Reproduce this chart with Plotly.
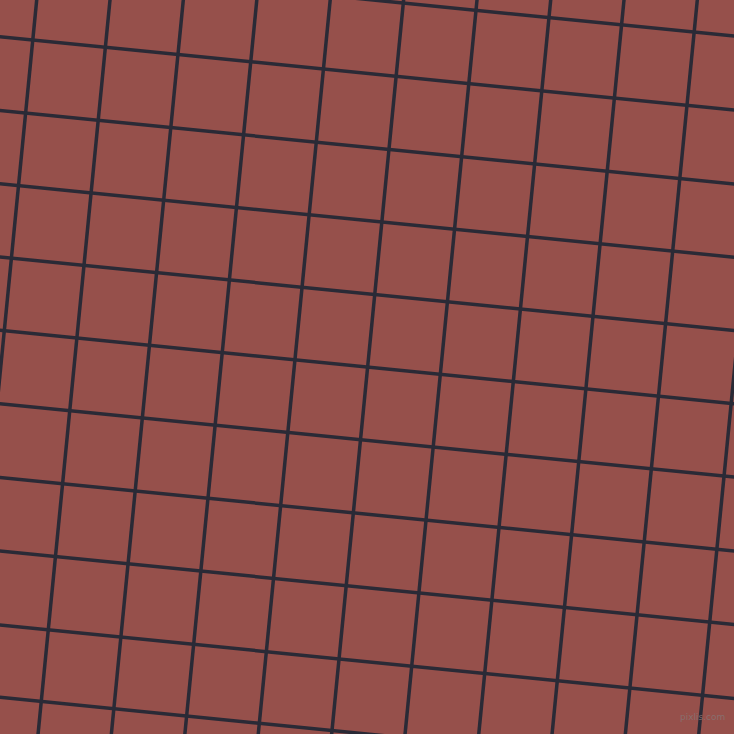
import plotly.graph_objects as go

# grid (pixel space, y down)
tilt_v = 0.098  # dx/dy of the near-vertical lines
tilt_h = 0.100  # dy/dx of the near-horizontal lines
col_lines = [-36.7, 36.7, 110.0, 183.3, 256.8, 330.2, 403.6, 477.0, 550.7, 624.0, 697.3, 770.7]  # x where each line meets the top
row_lines = [-37.3, 36.7, 110.5, 183.8, 257.0, 330.3, 403.7, 477.5, 551.0, 625.0, 697.3]  # y where each line meets the left edge

W = H = 734
bg_color = "#96504b"
line_color = "#2a2a36"

# ---- build the two line families ----
vx, vy = [], []
for c in col_lines:
    vx += [c + tilt_v * 60, c - tilt_v * (H + 60), None]
    vy += [-60, H + 60, None]

hx, hy = [], []
for d in row_lines:
    hx += [-60, W + 60, None]
    hy += [d - tilt_h * 60, d + tilt_h * (W + 60), None]

fig = go.Figure()
fig.add_trace(go.Scatter(x=vx, y=vy, mode="lines",
                         line=dict(color=line_color, width=3.5),
                         hoverinfo="skip", showlegend=False))
fig.add_trace(go.Scatter(x=hx, y=hy, mode="lines",
                         line=dict(color=line_color, width=3.5),
                         hoverinfo="skip", showlegend=False))

fig.add_annotation(x=727, y=717, xref="x", yref="y", text="pixlis.com",
                   showarrow=False, xanchor="right", yanchor="middle",
                   font=dict(family="DejaVu Sans", size=9, color="rgba(135,112,112,0.95)"))

fig.update_layout(
    width=W, height=H,
    margin=dict(l=0, r=0, t=0, b=0),
    paper_bgcolor=bg_color,
    plot_bgcolor=bg_color,
    xaxis=dict(range=[0, W], visible=False, fixedrange=True),
    yaxis=dict(range=[H, 0], visible=False, fixedrange=True),
)

# drop the page's default body margin so the figure fills the window
fig.write_html("out.html", config={"displayModeBar": False},
               post_script="document.body.style.margin='0';document.body.style.overflow='hidden';")
